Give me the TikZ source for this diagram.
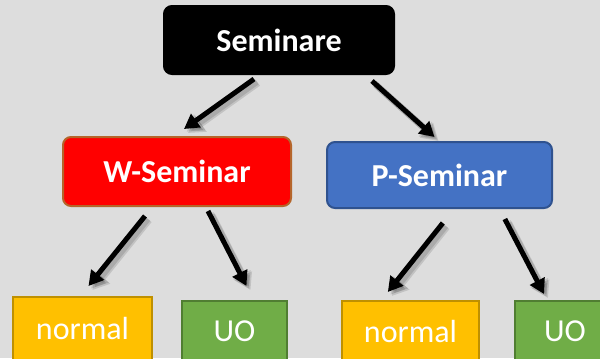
\documentclass[tikz,border=0pt]{standalone}
\usepackage{fontspec}
\setmainfont{Carlito}
\usetikzlibrary{arrows.meta}
\definecolor{bgc}{HTML}{DDDDDD}
\definecolor{redb}{HTML}{B5652A}
\definecolor{bluef}{HTML}{4472C4}
\definecolor{blueb}{HTML}{2F528F}
\definecolor{yelf}{HTML}{FFC000}
\definecolor{yelb}{HTML}{BF9000}
\definecolor{grnf}{HTML}{70AD47}
\definecolor{grnb}{HTML}{507E32}
\tikzset{
  topbox/.style={rounded corners=6pt, line width=1.5pt, text=white, font=\fontsize{24}{28}\selectfont\bfseries, inner sep=0pt},
  leafbox/.style={line width=1.5pt, text=white, font=\fontsize{24}{28}\selectfont, inner sep=0pt},
  arr/.style={line width=3.75pt, -{Triangle[length=11pt,width=12pt]}, black},
  arrsh/.style={line width=5pt, -{Triangle[length=12pt,width=14pt]}, black, opacity=0.12},
}
\newcommand{\shadarrow}[2]{%
  \draw[arrsh, transform canvas={shift={(2pt,-2pt)}}] #1 -- #2;
  \draw[arrsh, transform canvas={shift={(3pt,-3pt)}}] #1 -- #2;
  \draw[arr] #1 -- #2;}
\begin{document}
\begin{tikzpicture}[x=0.75pt,y=-0.75pt]
\fill[bgc] (0,0) rectangle (600,358);
\useasboundingbox (0,0) rectangle (600,358);
\node[topbox, fill=black, draw=black, minimum width=172.5pt, minimum height=51pt] (sem) at (279,40) {Seminare};
\node[topbox, fill=red, draw=redb, minimum width=171pt, minimum height=51.75pt] (w) at (177,171.5) {W-Seminar};
\node[topbox, fill=bluef, draw=blueb, minimum width=168.75pt, minimum height=49.5pt] (p) at (439.5,175) {P-Seminar};
\node[leafbox, fill=yelf, draw=yelb, minimum width=104.25pt, minimum height=47.25pt] (wn) at (82.5,328.5) {normal};
\node[leafbox, fill=grnf, draw=grnb, minimum width=78.75pt, minimum height=45.75pt] (wu) at (234.5,331.5) {UO};
\node[leafbox, fill=yelf, draw=yelb, minimum width=102.75pt, minimum height=45.75pt] (pn) at (410.5,331.5) {normal};
\node[leafbox, fill=grnf, draw=grnb, minimum width=75pt, minimum height=45.75pt] (pu) at (565,331.5) {UO};
\shadarrow{([xshift=-18.75pt,yshift=-3pt]sem.south)}{([xshift=5.25pt,yshift=5.25pt]w.north)}
\shadarrow{([xshift=69.75pt,yshift=-4.5pt]sem.south)}{([xshift=-3.75pt,yshift=3pt]p.north)}
\shadarrow{([xshift=-24pt,yshift=-6.75pt]w.south)}{([xshift=4.5pt,yshift=7.5pt]wn.north)}
\shadarrow{([xshift=23.25pt,yshift=-3pt]w.south)}{([xshift=9pt,yshift=10.5pt]wu.north)}
\shadarrow{([xshift=2.5pt,yshift=-10.5pt]p.south)}{([xshift=-17pt,yshift=6pt]pn.north)}
\shadarrow{([xshift=49pt,yshift=-7.5pt]p.south)}{([xshift=-15.75pt,yshift=4.5pt]pu.north)}
\end{tikzpicture}
\end{document}
